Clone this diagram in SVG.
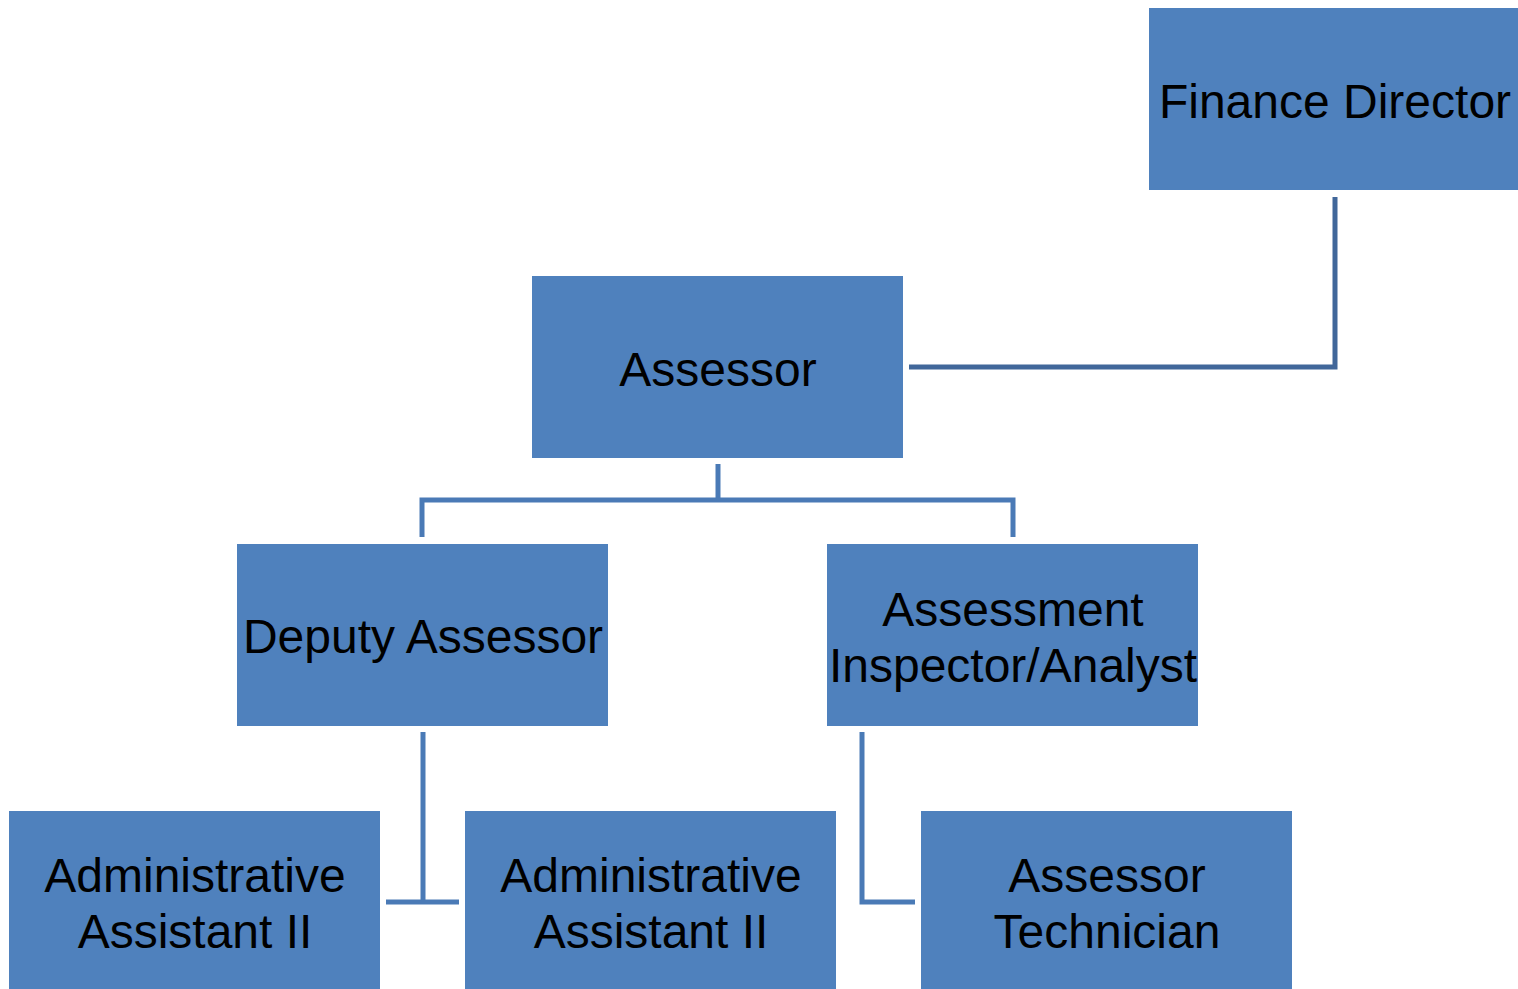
<svg xmlns="http://www.w3.org/2000/svg" width="1518" height="989" viewBox="0 0 1518 989">
<style>
.box{fill:#4F81BD;}
.lbl{font-family:"Liberation Sans",Arial,sans-serif;font-size:48px;fill:#000;text-anchor:middle;}
.c{fill:none;stroke:#4A7AB6;stroke-width:5;}
.cd{fill:none;stroke:#41679A;stroke-width:5;}
</style>
<rect width="1518" height="989" fill="#fff"/>
<g id="connectors">
<polyline class="cd" points="1335,197 1335,367 909,367"/>
<polyline class="c" points="718,464 718,500"/>
<polyline class="c" points="422,537 422,500 1013,500 1013,537"/>
<polyline class="c" points="423,732 423,902"/>
<polyline class="c" points="386,902 459,902"/>
<polyline class="c" points="862,732 862,902 915,902"/>
</g>
<g id="finance-director">
<rect class="box" x="1149" y="8" width="371" height="182"/>
<text class="lbl" x="1335" y="118">Finance Director</text>
</g>
<g id="assessor">
<rect class="box" x="532" y="276" width="371" height="182"/>
<text class="lbl" x="718" y="386">Assessor</text>
</g>
<g id="deputy-assessor">
<rect class="box" x="237" y="544" width="371" height="182"/>
<text class="lbl" x="423" y="653">Deputy Assessor</text>
</g>
<g id="assessment-inspector">
<rect class="box" x="827" y="544" width="371" height="182"/>
<text class="lbl" x="1013" y="626">Assessment</text>
<text class="lbl" x="1013" y="682">Inspector/Analyst</text>
</g>
<g id="admin-assistant-1">
<rect class="box" x="9" y="811" width="371" height="182"/>
<text class="lbl" x="195" y="892">Administrative</text>
<text class="lbl" x="195" y="948">Assistant II</text>
</g>
<g id="admin-assistant-2">
<rect class="box" x="465" y="811" width="371" height="182"/>
<text class="lbl" x="651" y="892">Administrative</text>
<text class="lbl" x="651" y="948">Assistant II</text>
</g>
<g id="assessor-technician">
<rect class="box" x="921" y="811" width="371" height="182"/>
<text class="lbl" x="1107" y="892">Assessor</text>
<text class="lbl" x="1107" y="948">Technician</text>
</g>
</svg>
